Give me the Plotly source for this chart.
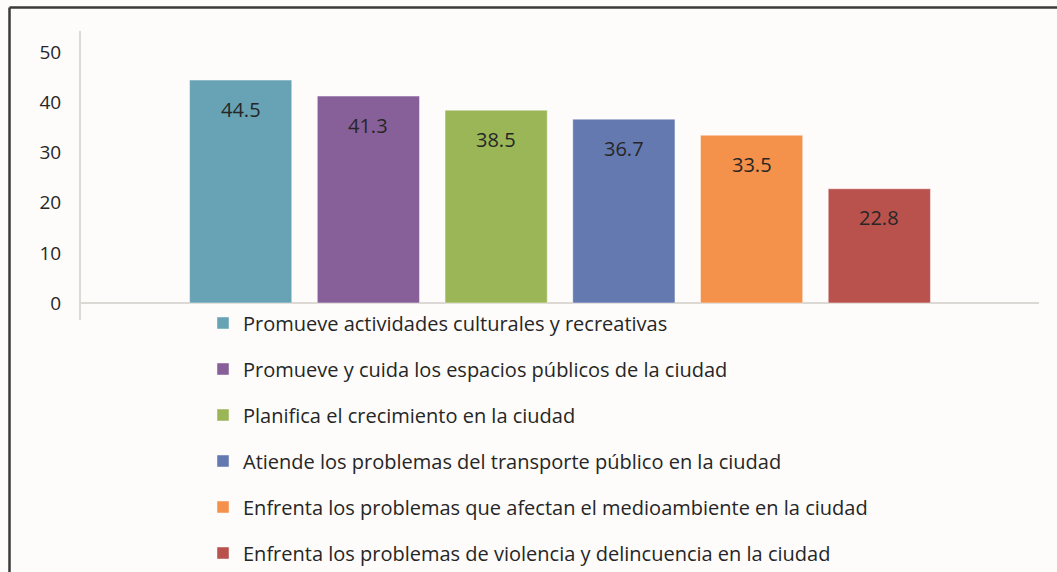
import plotly.graph_objects as go

categories = [""]
series_names = [
    "Promueve actividades culturales y recreativas",
    "Promueve y cuida los espacios públicos de la ciudad",
    "Planifica el crecimiento en la ciudad",
    "Atiende los problemas del transporte público en la ciudad",
    "Enfrenta los problemas que afectan el medioambiente en la ciudad",
    "Enfrenta los problemas de violencia y delincuencia en la ciudad",
]
series_values = [44.5, 41.3, 38.5, 36.7, 33.5, 22.8]
colors = ["#67a3b4", "#87609a", "#9bb657", "#6479b0", "#f4914a", "#b9524d"]
y_ticks = [0, 10, 20, 30, 40, 50]

FONT = "Open Sans"
TXT = "#262626"
W, H = 1057, 572
L, R, T = 81, 1039, 31          # plot area pixel edges
PLOT_BOTTOM = 320
PW, PH = R - L, H - T           # paper size (bottom margin 0)
BARGAP, GROUPGAP = 0.2, 0.2


def px_x(x):
    return (x - L) / PW


def px_y(y):
    return (H - y) / PH


n = len(series_values)
slot = (1 - BARGAP) / n
fig = go.Figure()
annotations = []
for i, (name, val, col) in enumerate(zip(series_names, series_values, colors)):
    fig.add_trace(go.Bar(
        x=categories, y=[val], name=name,
        marker=dict(color=col, line=dict(color="rgba(255,255,255,0.45)", width=1)),
        legendgroup=f"g{i}", hoverinfo="skip",
    ))
    # data label inside the bar, just below its top (derived from the group layout)
    annotations.append(dict(
        x=-(1 - BARGAP) / 2 + (i + 0.5) * slot, y=val, xref="x", yref="y",
        text=f"{val:.1f}", showarrow=False, yanchor="middle", yshift=-29,
        font=dict(family=FONT, size=20, color=TXT),
    ))

fig.update_layout(
    width=W, height=H,
    margin=dict(l=L, r=W - R, t=T, b=0, pad=0, autoexpand=False),
    paper_bgcolor="#fdfcfa", plot_bgcolor="#fdfcfa",
    barmode="group", bargap=BARGAP, bargroupgap=GROUPGAP,
    showlegend=True,
    legend=dict(
        x=px_x(203), y=px_y(303.5), xanchor="left", yanchor="top",
        traceorder="grouped", tracegroupgap=17,
        font=dict(family=FONT, size=20, color=TXT),
        bgcolor="rgba(0,0,0,0)", maxheight=600,
    ),
    font=dict(family=FONT, size=18, color=TXT),
    xaxis=dict(showticklabels=False, showgrid=False, zeroline=False, showline=False,
               range=[-0.5, 0.5]),
    yaxis=dict(
        domain=[px_y(PLOT_BOTTOM), 1],
        range=[-3.4, 54.3], tickvals=y_ticks, showgrid=False,
        zeroline=True, zerolinecolor="#dcd8d3", zerolinewidth=2,
        showline=True, linecolor="#dcd8d3", linewidth=2,
        ticks="", ticklabelstandoff=14,
        tickfont=dict(family=FONT, size=19, color=TXT),
    ),
    annotations=annotations,
    shapes=[
        dict(type="line", xref="paper", yref="paper",
             x0=px_x(9.5), x1=px_x(1060), y0=px_y(7.5), y1=px_y(7.5),
             line=dict(color="#3a3a3a", width=2.5)),
        dict(type="line", xref="paper", yref="paper",
             x0=px_x(9.5), x1=px_x(9.5), y0=px_y(7.5), y1=px_y(580),
             line=dict(color="#3a3a3a", width=2.5)),
    ],
)

fig.write_html("out.html", config={"displayModeBar": False},
               post_script="document.body.style.margin='0px';")
